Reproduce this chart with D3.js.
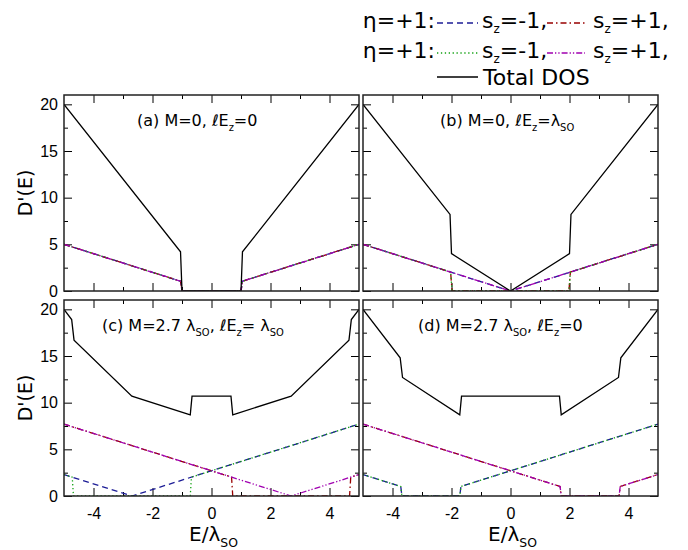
<!DOCTYPE html>
<html>
<head>
  <script src="https://cdn.jsdelivr.net/npm/d3@7"></script>
  <style type="text/css">
    body { margin: 0; background: #fff; }
    .tick text { font-family: "Liberation Sans", Arial, sans-serif; font-size: 16px; fill: #000; }
    .tick line { stroke: #000; stroke-width: 1; }
    .lbl { font-family: "DejaVu Sans", sans-serif; fill: #000; }
  </style>
</head>
<body>
<svg id="chart" width="688" height="550"></svg>

<script type="text/javascript">
// tick values / labels
const xTickVals = [-4, -2, 0, 2, 4];
const xTickLabels = ["-4", "-2", "0", "2", "4"];
const xMinorVals = [-3, -1, 1, 3];
const yTickVals = [0, 5, 10, 15, 20];
const yTickLabels = ["0", "5", "10", "15", "20"];
const yMinorVals = [2.5, 7.5, 12.5, 17.5];

// (a) M=0, lEz=0  -- [E, D'] breakpoints
const aBlue   = [[-5, 5], [-1.05, 1.05], [-1.0, 0], [1.0, 0], [1.05, 1.05], [5, 5]];
const aRed    = [[-5, 5], [-1.05, 1.05], [-1.0, 0], [1.0, 0], [1.05, 1.05], [5, 5]];
const aGreen  = [[-5, 5], [-1.05, 1.05], [-1.0, 0], [1.0, 0], [1.05, 1.05], [5, 5]];
const aPurple = [[-5, 5], [-1.05, 1.05], [-1.0, 0], [1.0, 0], [1.05, 1.05], [5, 5]];
const aTotal  = [[-5, 20], [-1.05, 4.2], [-1.0, 0], [1.0, 0], [1.05, 4.2], [5, 20]];

// (b) M=0, lEz=lambda
const bBlue   = [[-5, 5], [0, 0], [5, 5]];
const bRed    = [[-5, 5], [-2.03, 2.03], [-1.98, 0], [1.98, 0], [2.03, 2.03], [5, 5]];
const bGreen  = [[-5, 5], [-2.03, 2.03], [-1.98, 0], [1.98, 0], [2.03, 2.03], [5, 5]];
const bPurple = [[-5, 5], [0, 0], [5, 5]];
const bTotal  = [[-5, 20], [-2.05, 8.2], [-2.0, 4.0], [0, 0], [2.0, 4.0], [2.05, 8.2], [5, 20]];

// (c) M=2.7, lEz=lambda
const cBlue   = [[-5, 2.3], [-2.7, 0], [5, 7.7]];
const cRed    = [[-5, 7.7], [0.68, 2.02], [0.72, 0], [4.68, 0], [4.72, 2.02], [5, 2.3]];
const cGreen  = [[-5, 2.3], [-4.72, 2.02], [-4.68, 0], [-0.72, 0], [-0.68, 2.02], [5, 7.7]];
const cPurple = [[-5, 7.7], [2.7, 0], [5, 2.3]];
const cTotal  = [[-5, 20], [-4.74, 18.9], [-4.66, 16.7], [-2.7, 10.7], [-0.72, 8.7], [-0.66, 10.7],
                 [0.66, 10.7], [0.72, 8.7], [2.7, 10.7], [4.66, 16.7], [4.74, 18.9], [5, 20]];

// (d) M=2.7, lEz=0
const dBlue   = [[-5, 2.3], [-3.72, 1.02], [-3.68, 0], [-1.72, 0], [-1.68, 1.02], [5, 7.7]];
const dRed    = [[-5, 7.7], [1.68, 1.02], [1.72, 0], [3.68, 0], [3.72, 1.02], [5, 2.3]];
const dGreen  = [[-5, 2.3], [-3.72, 1.02], [-3.68, 0], [-1.72, 0], [-1.68, 1.02], [5, 7.7]];
const dPurple = [[-5, 7.7], [1.68, 1.02], [1.72, 0], [3.68, 0], [3.72, 1.02], [5, 2.3]];
const dTotal  = [[-5, 20], [-3.74, 14.8], [-3.66, 12.7], [-1.72, 8.7], [-1.66, 10.7],
                 [1.66, 10.7], [1.72, 8.7], [3.66, 12.7], [3.74, 14.8], [5, 20]];

const styles = [
  {color: "#1c1c96", dash: "6,4"},
  {color: "#980000", dash: "6,3,1.5,3"},
  {color: "#10a010", dash: "1.3,2.6"},
  {color: "#a000b0", dash: "6,2,1.3,2,1.3,2"}
];

const panels = [
  {series: [aBlue, aRed, aGreen, aPurple], total: aTotal, x0: 64,  y0: 95,  left: true,  bottom: false,
   tx: 137, title: "a"},
  {series: [bBlue, bRed, bGreen, bPurple], total: bTotal, x0: 363, y0: 95,  left: false, bottom: false,
   tx: 440, title: "b"},
  {series: [cBlue, cRed, cGreen, cPurple], total: cTotal, x0: 64,  y0: 300, left: true,  bottom: true,
   tx: 102, title: "c"},
  {series: [dBlue, dRed, dGreen, dPurple], total: dTotal, x0: 363, y0: 300, left: false, bottom: true,
   tx: 418, title: "d"}
];
const pw = 295, ph = 196;

var svg = d3.select('#chart');

function subText(sel, parts) {
  // parts: [text, isSub]
  var shift = 0;
  parts.forEach(function(p) {
    var t = sel.append('tspan').text(p[0]);
    if (p[1] && !shift) { t.attr('dy', p[2] || 6).attr('font-size', p[3] || '0.62em'); shift = p[2] || 6; }
    else if (!p[1] && shift) { t.attr('dy', -shift); shift = 0; }
  });
}

panels.forEach(function(p, i) {
  var x = d3.scaleLinear().domain([-5, 5]).range([0, pw]);
  var y = d3.scaleLinear().domain([0, 21]).range([ph, 0]);
  var g = svg.append('g').attr('transform', `translate(${p.x0},${p.y0})`);

  g.append('clipPath').attr('id', 'clip' + i)
    .append('rect').attr('width', pw).attr('height', ph);

  // ticks, inward on all four sides
  function ax(gen, tx, ty) {
    var a = g.append('g').attr('transform', `translate(${tx},${ty})`).call(gen);
    a.select('.domain').remove();
    return a;
  }
  ax(d3.axisBottom(x).tickValues(xTickVals).tickSize(-8).tickPadding(12)
      .tickFormat((d, k) => p.bottom ? xTickLabels[k] : ""), 0, ph);
  ax(d3.axisBottom(x).tickValues(xMinorVals).tickSize(-4).tickFormat(""), 0, ph);
  ax(d3.axisTop(x).tickValues(xTickVals).tickSize(-8).tickFormat(""), 0, 0);
  ax(d3.axisTop(x).tickValues(xMinorVals).tickSize(-4).tickFormat(""), 0, 0);
  ax(d3.axisLeft(y).tickValues(yTickVals).tickSize(-8).tickPadding(6)
      .tickFormat((d, k) => p.left ? yTickLabels[k] : ""), 0, 0);
  ax(d3.axisLeft(y).tickValues(yMinorVals).tickSize(-4).tickFormat(""), 0, 0);
  ax(d3.axisRight(y).tickValues(yTickVals).tickSize(-8).tickFormat(""), pw, 0);
  ax(d3.axisRight(y).tickValues(yMinorVals).tickSize(-4).tickFormat(""), pw, 0);

  var line = d3.line().x(d => x(d[0])).y(d => y(d[1]));
  var lines = g.append('g').attr('clip-path', `url(#clip${i})`);
  p.series.forEach(function(s, k) {
    lines.append('path').datum(s).attr('d', line)
      .attr('fill', 'none').attr('stroke', styles[k].color)
      .attr('stroke-width', 1.3).attr('stroke-dasharray', styles[k].dash);
  });
  lines.append('path').datum(p.total).attr('d', line)
    .attr('fill', 'none').attr('stroke', '#000').attr('stroke-width', 1.3);

  g.append('rect').attr('width', pw).attr('height', ph)
    .attr('fill', 'none').attr('stroke', '#222').attr('stroke-width', 1.5);

  // panel title
  var t = g.append('text').attr('class', 'lbl').attr('font-size', 16)
    .attr('x', p.tx - p.x0).attr('y', 31);
  if (p.title == "a") subText(t, [["(a) M=0, \u2113E"], ["z", 1, 5], ["=0"]]);
  if (p.title == "b") subText(t, [["(b) M=0, \u2113E"], ["z", 1, 5], ["=\u03bb"], ["SO", 1, 5]]);
  if (p.title == "c") subText(t, [["(c) M=2.7 \u03bb"], ["SO", 1, 5], [", \u2113E"], ["z", 1, 5], ["= \u03bb"], ["SO", 1, 5]]);
  if (p.title == "d") subText(t, [["(d) M=2.7 \u03bb"], ["SO", 1, 5], [", \u2113E"], ["z", 1, 5], ["=0"]]);

  if (p.left) {
    g.append('text').attr('class', 'lbl').attr('font-size', 19)
      .attr('text-anchor', 'middle')
      .attr('transform', `translate(${25 - p.x0},${ph / 2}) rotate(-90)`)
      .attr('dy', '0.35em').text("D'(E)");
  }
  if (p.bottom) {
    var xl = g.append('text').attr('class', 'lbl').attr('font-size', 20)
      .attr('text-anchor', 'middle').attr('x', pw / 2 + 2).attr('y', ph + 45);
    subText(xl, [["E/\u03bb"], ["SO", 1, 6]]);
  }
});

// legend
const legRows = [
  {y: 28, lead: "\u03b7=+1:", s1: styles[0], s2: styles[1]},
  {y: 58, lead: "\u03b7=+1:", s1: styles[2], s2: styles[3]}
];
var leg = svg.append('g');
legRows.forEach(function(r) {
  leg.append('text').attr('class', 'lbl').attr('font-size', 22)
    .attr('text-anchor', 'end').attr('x', 435).attr('y', r.y).text(r.lead);
  leg.append('line').attr('x1', 437).attr('x2', 478).attr('y1', r.y - 5).attr('y2', r.y - 5)
    .attr('stroke', r.s1.color).attr('stroke-width', 1.3).attr('stroke-dasharray', r.s1.dash);
  var t1 = leg.append('text').attr('class', 'lbl').attr('font-size', 22).attr('x', 482).attr('y', r.y);
  subText(t1, [["s"], ["z", 1, 5, 12], ["=-1,"]]);
  leg.append('line').attr('x1', 547).attr('x2', 585).attr('y1', r.y - 5).attr('y2', r.y - 5)
    .attr('stroke', r.s2.color).attr('stroke-width', 1.3).attr('stroke-dasharray', r.s2.dash);
  var t2 = leg.append('text').attr('class', 'lbl').attr('font-size', 22).attr('x', 593).attr('y', r.y);
  subText(t2, [["s"], ["z", 1, 5, 12], ["=+1,"]]);
});
leg.append('line').attr('x1', 437).attr('x2', 478).attr('y1', 77).attr('y2', 77)
  .attr('stroke', '#000').attr('stroke-width', 1.3);
leg.append('text').attr('class', 'lbl').attr('font-size', 22).attr('x', 483).attr('y', 85).text("Total DOS");
</script>
</body>
</html>
